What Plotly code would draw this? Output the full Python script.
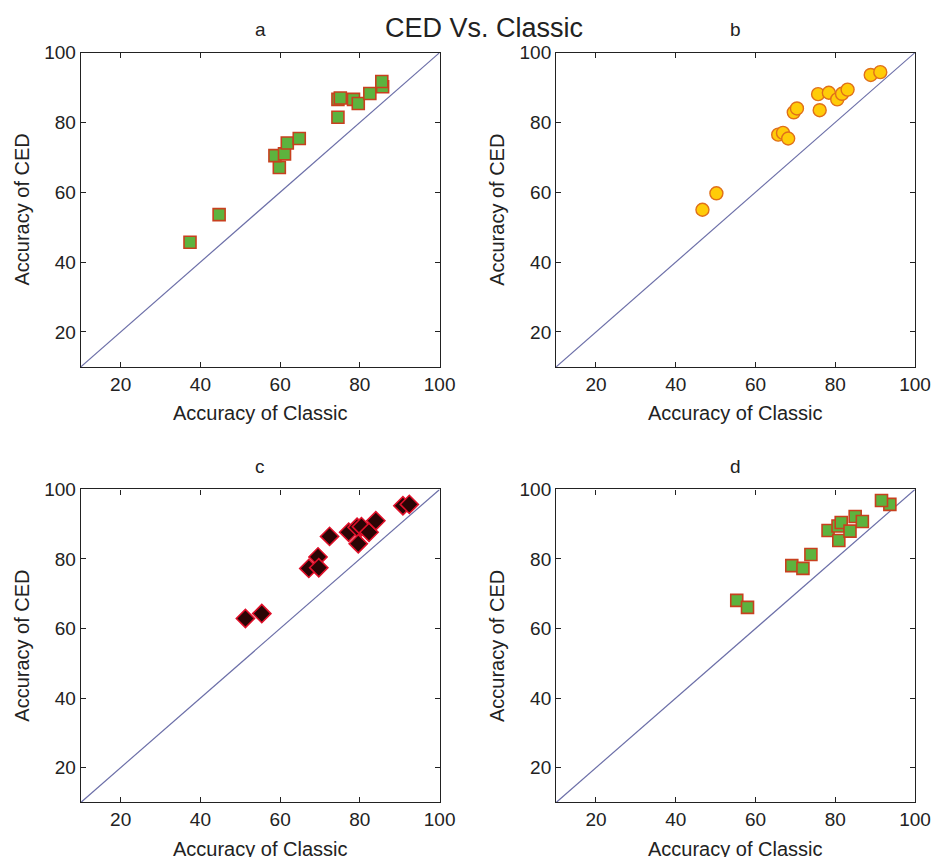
import plotly.graph_objects as go

# ---- data ----
a_classic = [37.4, 44.7, 59.8, 58.7, 61.1, 61.8, 64.8, 74.5, 74.5, 75.1, 78.4, 79.6, 82.5, 85.7, 85.5]
a_ced     = [45.7, 53.6, 67.1, 70.5, 71.0, 74.1, 75.4, 81.5, 86.6, 87.0, 86.6, 85.4, 88.3, 90.2, 91.7]

b_classic = [46.7, 50.2, 65.7, 66.9, 68.2, 69.6, 70.4, 76.1, 75.7, 78.4, 80.5, 81.7, 83.1, 88.9, 91.3]
b_ced     = [55.0, 59.7, 76.5, 77.0, 75.4, 82.9, 84.0, 83.5, 88.1, 88.5, 86.6, 88.2, 89.4, 93.6, 94.4]

c_classic = [51.3, 55.4, 67.2, 69.5, 69.7, 72.4, 77.2, 79.3, 80.4, 79.6, 82.3, 84.0, 90.8, 92.4]
c_ced     = [62.9, 64.3, 77.3, 80.6, 77.5, 86.5, 87.7, 89.1, 89.3, 84.4, 87.7, 91.0, 95.3, 95.7]

d_classic = [55.3, 58.0, 69.1, 71.9, 73.9, 78.2, 80.9, 80.7, 81.5, 83.7, 85.0, 86.8, 93.7, 91.6]
d_ced     = [68.1, 66.1, 78.1, 77.3, 81.3, 88.2, 85.3, 89.5, 90.5, 88.0, 92.2, 90.8, 95.7, 96.8]

diag_line = [10, 100]
tick_vals = [20, 40, 60, 80, 100]
panel_titles = ["a", "b", "c", "d"]
main_title = "CED Vs. Classic"
x_title = "Accuracy of Classic"
y_title = "Accuracy of CED"

W, H = 951, 857
OFF = 8  # page body margin offset of the rendered figure
FONT = "Liberation Sans, Arial, sans-serif"


def px_x(x):
    return (x - OFF) / W


def px_y(y):
    return 1 - (y - OFF) / H


# panel boxes in window pixels (left, right, top, bottom)
boxes = [
    (82, 447, 43, 361),
    (565.5, 930.5, 43, 361),
    (82, 447, 485, 801.7),
    (565.5, 930.5, 485, 801.7),
]

styles = [
    dict(symbol="square", size=12, color="#5db33e", line=dict(color="#c8401e", width=1.6)),
    dict(symbol="circle", size=13, color="#ffcc08", line=dict(color="#e0701a", width=1.4)),
    dict(symbol="diamond", size=14, color="#2a0505", line=dict(color="#e0102a", width=1.6)),
    dict(symbol="square", size=12, color="#5db33e", line=dict(color="#c8401e", width=1.6)),
]

series = [(a_classic, a_ced), (b_classic, b_ced), (c_classic, c_ced), (d_classic, d_ced)]

fig = go.Figure()
layout = dict(
    width=W, height=H,
    margin=dict(l=0, r=0, t=0, b=0),
    paper_bgcolor="white", plot_bgcolor="white",
    showlegend=False,
    font=dict(family=FONT, size=19, color="#222222"),
)
annotations = []

for i, ((xs, ys), st, box) in enumerate(zip(series, styles, boxes)):
    n = "" if i == 0 else str(i + 1)
    xa, ya = "x" + n, "y" + n
    l, r, t, b = box
    fig.add_trace(go.Scatter(x=diag_line, y=diag_line, mode="lines",
                             line=dict(color="#6c6fa8", width=1.2),
                             xaxis=xa, yaxis=ya, hoverinfo="skip"))
    fig.add_trace(go.Scatter(x=xs, y=ys, mode="markers", marker=st,
                             xaxis=xa, yaxis=ya))
    common = dict(range=[10, 100], tickvals=tick_vals, ticks="inside", ticklen=5,
                  tickcolor="#222222", showline=True, linecolor="#222222", linewidth=1.2,
                  mirror="ticks", showgrid=False, zeroline=False,
                  tickfont=dict(family=FONT, size=19, color="#222222"))
    layout["xaxis" + n] = dict(common, domain=[px_x(l), px_x(r)], anchor=ya)
    layout["yaxis" + n] = dict(common, domain=[px_y(b), px_y(t)], anchor=xa)

    cx = (l + r) / 2
    cy = (t + b) / 2
    annotations.append(dict(text=panel_titles[i], x=px_x(cx), y=px_y(t - 23),
                            xref="paper", yref="paper", showarrow=False,
                            xanchor="center", yanchor="middle",
                            font=dict(family=FONT, size=19, color="#222222")))
    annotations.append(dict(text=x_title, x=px_x(cx), y=px_y(b + 47),
                            xref="paper", yref="paper", showarrow=False,
                            xanchor="center", yanchor="middle",
                            font=dict(family=FONT, size=20, color="#222222")))
    annotations.append(dict(text=y_title, x=px_x(l - 60), y=px_y(cy),
                            xref="paper", yref="paper", showarrow=False, textangle=-90,
                            xanchor="center", yanchor="middle",
                            font=dict(family=FONT, size=20, color="#222222")))

annotations.append(dict(text=main_title, x=px_x(492), y=px_y(18),
                        xref="paper", yref="paper", showarrow=False,
                        xanchor="center", yanchor="middle",
                        font=dict(family=FONT, size=27, color="#222222")))
layout["annotations"] = annotations
fig.update_layout(**layout)
fig.write_html("out.html")
